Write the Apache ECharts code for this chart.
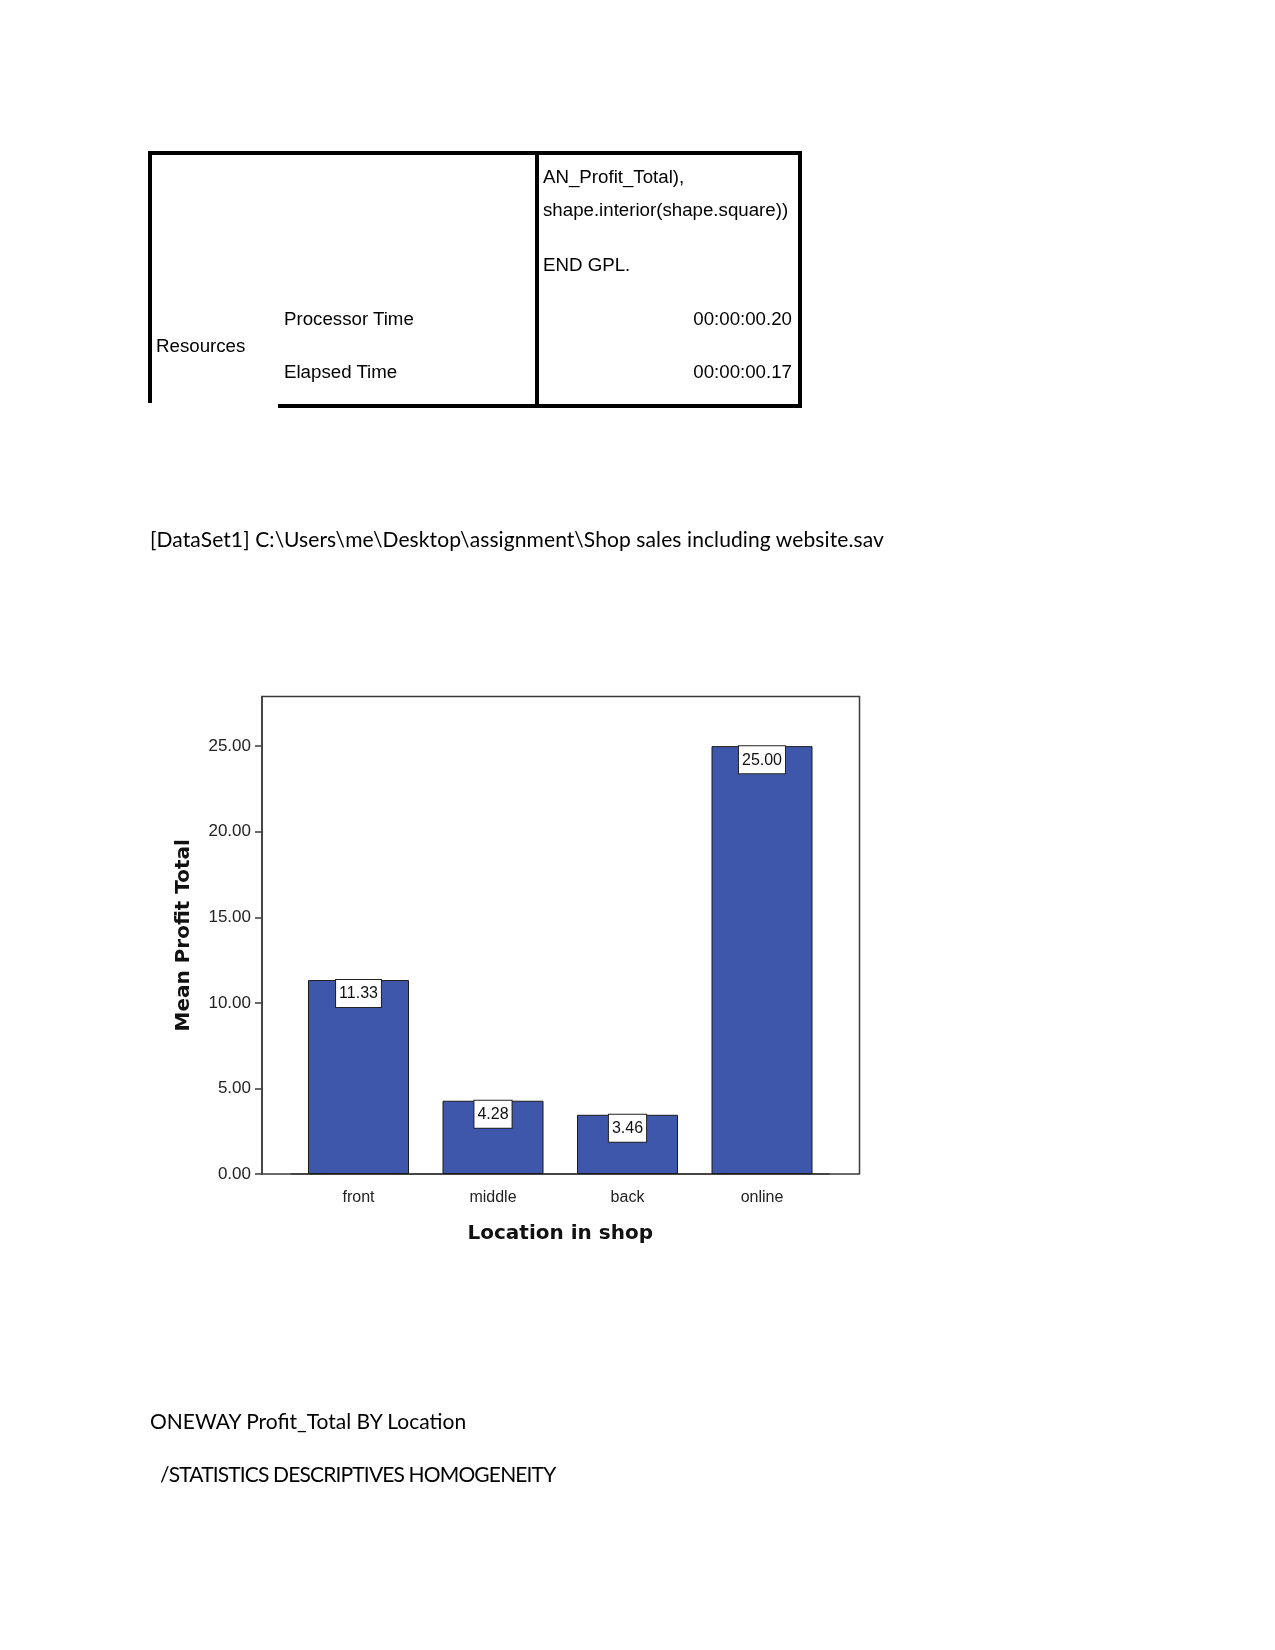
<!DOCTYPE html>
<html><head><meta charset="utf-8">
<script src="https://cdn.jsdelivr.net/npm/echarts@6/dist/echarts.min.js"></script>
<style>
body{margin:0;background:#fff;}
#chart{position:absolute;left:0;top:0;width:1275px;height:1650px;}
.t{position:absolute;white-space:nowrap;z-index:2;color:#000;}
.tbl{font-family:"Liberation Sans",Arial,sans-serif;font-size:18.7px;line-height:24px;height:24px;}
.doc{font-family:Lato,"Open Sans",sans-serif;font-size:21px;line-height:28px;height:28px;}
.b{position:absolute;background:#000;z-index:2;}
</style></head><body>
<div id="chart"></div>

<div class="b" style="left:148px;top:151px;width:654px;height:4px"></div>
<div class="b" style="left:148px;top:151px;width:4px;height:252px"></div>
<div class="b" style="left:798px;top:151px;width:4px;height:257px"></div>
<div class="b" style="left:535px;top:151px;width:4px;height:257px"></div>
<div class="b" style="left:278px;top:404px;width:524px;height:4px"></div>

<div class="t tbl" style="left:543px;top:165px">AN_Profit_Total),</div>
<div class="t tbl" style="left:543px;top:198px">shape.interior(shape.square))</div>
<div class="t tbl" style="left:543px;top:253px">END GPL.</div>
<div class="t tbl" style="left:284px;top:307px">Processor Time</div>
<div class="t tbl" style="left:156px;top:334px">Resources</div>
<div class="t tbl" style="left:284px;top:360px">Elapsed Time</div>
<div class="t tbl" style="right:483px;top:307px;text-align:right">00:00:00.20</div>
<div class="t tbl" style="right:483px;top:360px;text-align:right">00:00:00.17</div>

<div class="t doc" style="left:150px;top:525px;letter-spacing:0.1px">[DataSet1] C:\Users\me\Desktop\assignment\Shop sales including website.sav</div>
<div class="t doc" style="left:150px;top:1407px">ONEWAY Profit_Total BY Location</div>
<div class="t doc" style="left:160px;top:1460px;letter-spacing:-0.85px">/STATISTICS DESCRIPTIVES HOMOGENEITY</div>

<script>
const categories = ['front', 'middle', 'back', 'online'];
const meanProfit = [11.33, 4.28, 3.46, 25.00];
const yTickValues = [0, 5, 10, 15, 20, 25];
const yMax = 27.9;

const chart = echarts.init(document.getElementById('chart'), null, {renderer: 'canvas'});
const axisColor = '#3a3a3a';
chart.setOption({
  animation: false,
  backgroundColor: '#fff',
  grid: [
    {left: 291.25, top: 696.5, width: 538, height: 477.5, show: false},
    {left: 262, top: 696.5, width: 597.5, height: 477.5, show: true, borderColor: axisColor, borderWidth: 1.5, backgroundColor: 'transparent'}
  ],
  xAxis: [
    {
      gridIndex: 0, type: 'category', data: categories, boundaryGap: true,
      axisLine: {lineStyle: {color: axisColor, width: 1.5}},
      axisTick: {alignWithLabel: true, length: 7, lineStyle: {color: axisColor, width: 1.5}},
      axisLabel: {color: '#222', fontSize: 16, fontFamily: 'Liberation Sans', margin: 16},
      name: 'Location in shop', nameLocation: 'middle', nameGap: 50,
      nameTextStyle: {fontFamily: 'DejaVu Sans', fontWeight: 'bold', fontSize: 20, color: '#111'}
    },
    {gridIndex: 1, type: 'value', show: false}
  ],
  yAxis: [
    {
      gridIndex: 0, type: 'value', min: 0, max: yMax, offset: 29.25,
      axisLine: {show: true, lineStyle: {color: axisColor, width: 1.5}},
      axisTick: {show: true, length: 7, customValues: yTickValues, lineStyle: {color: axisColor, width: 1.5}},
      axisLabel: {customValues: yTickValues, formatter: v => Number(v).toFixed(2), color: '#222', fontSize: 17, fontFamily: 'Liberation Sans', margin: 11},
      splitLine: {show: false},
      name: 'Mean Profit Total', nameLocation: 'middle', nameGap: 68,
      nameTextStyle: {fontFamily: 'DejaVu Sans', fontWeight: 'bold', fontSize: 20, color: '#111'}
    },
    {gridIndex: 1, type: 'value', show: false}
  ],
  series: [{
    type: 'bar', xAxisIndex: 0, yAxisIndex: 0,
    data: meanProfit, barWidth: 101,
    itemStyle: {color: '#3F57AA', borderColor: '#1a1a1a', borderWidth: 1},
    label: {
      show: true, position: 'insideTop', distance: 0,
      formatter: p => Number(p.value).toFixed(2),
      backgroundColor: '#fff', borderColor: '#222', borderWidth: 1,
      padding: [6, 3, 5, 3], fontSize: 16, color: '#111', fontFamily: 'Liberation Sans'
    }
  }]
});
</script>
</body></html>
